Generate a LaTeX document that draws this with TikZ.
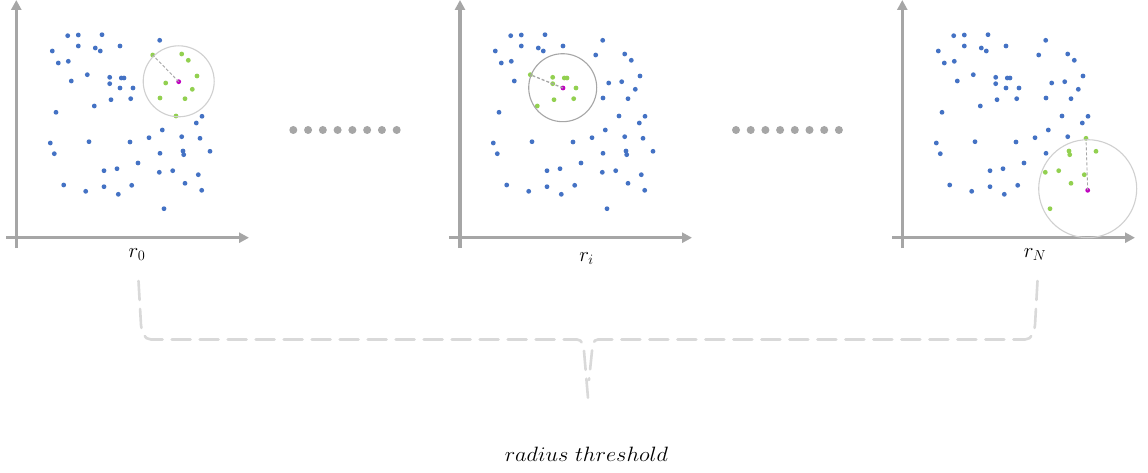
\documentclass[tikz,border=0pt]{standalone}
\usetikzlibrary{arrows.meta}
\definecolor{ptblue}{HTML}{4472C4}
\definecolor{ptgreen}{HTML}{92D050}
\definecolor{ptmag}{HTML}{C000C0}
\definecolor{axisgray}{HTML}{A6A6A6}
\definecolor{bracegray}{HTML}{D9D9D9}
\definecolor{circlight}{HTML}{D0D0D0}
\tikzset{
  axisline/.style={draw=axisgray, line width=3.5pt, -{Triangle[length=10pt,width=10pt]}},
  radline/.style={draw=axisgray, line width=0.9pt, dash pattern=on 3pt off 2pt},
  bracepath/.style={draw=bracegray, line width=2.6pt, dash pattern=on 19pt off 9pt, line cap=round},
  lbl/.style={anchor=base, inner sep=0pt, font=\fontsize{21}{25}\selectfont},
  sepdot/.style={fill=axisgray}
}
\def\ptlist{67.7/35.7, 78.3/35, 102/34.7, 78.3/46, 95.3/48, 100.3/51, 120/46, 52.3/51, 58.3/63, 68.3/61.3,
87.3/74.7, 71.3/81, 109.7/77.3, 121.3/78, 124/78, 109.7/83.7, 120/88, 133/88, 111/99.7, 130.7/98.7,
94.3/106, 56/112.3, 159.7/40.3, 152.7/55, 181.7/54, 188.3/60.3, 197/76, 165.7/83, 192.3/89.3, 160/98,
185/98.7, 176/116, 178.7/81.7, 202/116.3, 196.3/123, 162.3/130, 149/137.7, 181.7/136.7, 200/138.3, 50.3/143,
89/141.7, 130/142, 54.3/153.7, 160/153.3, 183/151, 183.7/154.7, 210/151.3, 138/163, 104/170.7, 117/168.7,
159.3/172.3, 172.7/170.7, 198.3/174.7, 63.7/185, 85.7/191.3, 104/186.7, 118.3/194.3, 131.7/185.3, 185/183.3, 201.7/190.3,
164/208.7}
% #1 x offset, #2 #3 centre, #4 threshold
\newcommand{\drawpts}[4]{%
  \foreach \px/\py in \ptlist {%
    \pgfmathsetmacro{\dd}{veclen(\px-#2,\py-#3)}%
    \pgfmathtruncatemacro{\cc}{\dd<0.5 ? 2 : (\dd<#4 ? 1 : 0)}%
    \ifcase\cc \def\pc{ptblue}\or \def\pc{ptgreen}\or \def\pc{ptmag}\fi
    \fill[\pc] (#1+\px,\py) circle[radius=2.4pt];
  }%
}
\begin{document}
\begin{tikzpicture}[x=1pt,y=-1pt]
\useasboundingbox (0,0) rectangle (1148,473);
\fill[white] (0,0) rectangle (1148,473);

% ---------- panel 1 ----------
\draw[axisline] (16.3,248) -- (16.3,0);
\draw[axisline] (6,237.7) -- (249,237.7);
\drawpts{0}{178.7}{81.7}{38}
\draw[draw=circlight, line width=1.1pt] (178.7,81.3) circle[radius=35.5pt];
\coordinate (c1) at (178.7,81.7);
\coordinate (e1) at (152.7,55);
\draw[radline] (c1) -- (e1);
\node[lbl] (l0) at (137,257.5) {$r_0$};

% ---------- panel 2 ----------
\draw[axisline] (460,248) -- (460,0);
\draw[axisline] (449,237.7) -- (692,237.7);
\drawpts{443}{120}{88}{36}
\draw[draw=axisgray, line width=1.1pt] (443+119.7,87.7) circle[radius=34pt];
\coordinate (c2) at (443+120,88);
\coordinate (e2) at (443+87.3,74.7);
\draw[radline, line width=1.3pt] (c2) -- (e2);
\node[lbl] (li) at (586.5,261.5) {$r_i$};

% ---------- panel 3 ----------
\draw[axisline] (902.3,248) -- (902.3,0);
\draw[axisline] (892,237.7) -- (1135,237.7);
\drawpts{886}{201.7}{190.3}{53}
\draw[draw=circlight, line width=1.1pt] (886+201.7,188.7) circle[radius=49pt];
\coordinate (c3) at (886+201.7,190.3);
\coordinate (e3) at (886+200,138.3);
\draw[radline] (c3) -- (e3);
\node[lbl] (lN) at (1035,257) {$r_N$};

% ---------- separator dots ----------
\foreach \k in {0,...,7} {
  \fill[sepdot] (293.3+14.77*\k,130) circle[radius=4pt];
  \fill[sepdot] (736+14.7*\k,130) circle[radius=4pt];
}

% ---------- brace ----------
\coordinate (tip) at (588,398);
\coordinate (bl) at (138.5,281);
\coordinate (br) at (1037.5,281);
\draw[bracepath] (bl) -- (141,325) to[out=-85,in=180] (151,339.5) -- (577,339.5)
   to[out=0,in=95] (584,351) -- (tip);
\draw[bracepath] (br) -- (1035,325) to[out=-95,in=0] (1025,339.5) -- (598,339.5)
   to[out=180,in=85] (592,351) -- (589,380);

\node[anchor=base, inner sep=0pt] (rt) at (586.5,461.7)
  {\scalebox{1.08}[1]{\fontsize{20.5}{24}\selectfont $radius\ threshold$}};
\end{tikzpicture}
\end{document}
